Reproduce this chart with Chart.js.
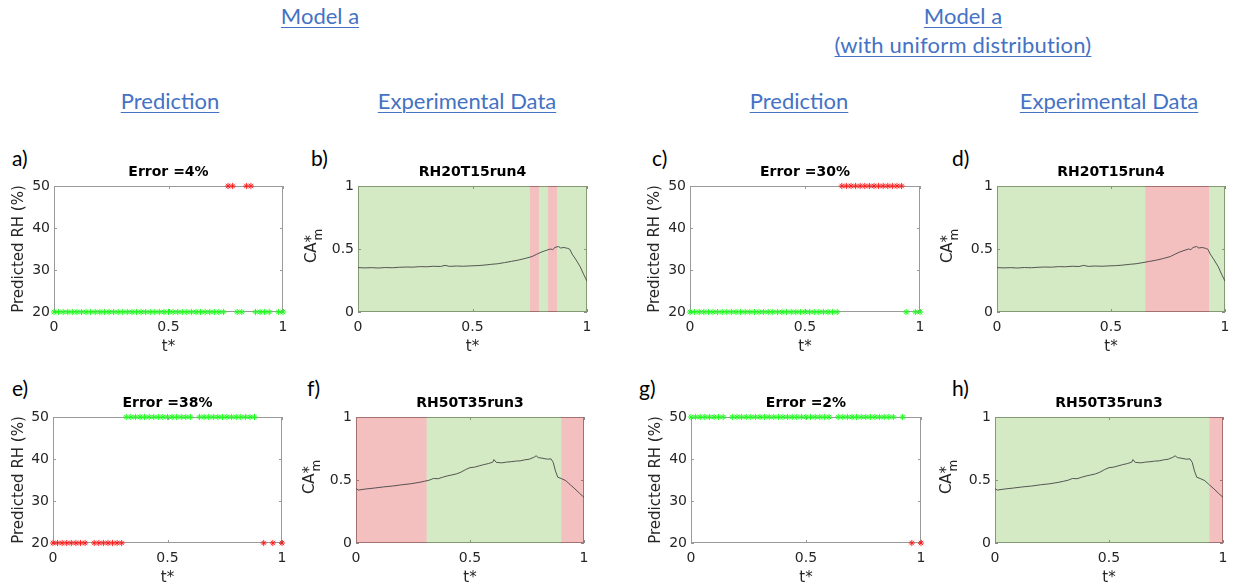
<!DOCTYPE html>
<html>
<head>
<meta charset="utf-8">
<script src="https://cdn.jsdelivr.net/npm/chart.js@4.4.1/dist/chart.umd.min.js"></script>
<style>
  body { margin: 0; background: #fff; width: 1233px; height: 588px; overflow: hidden; position: relative; font-family: Lato, sans-serif; }
  .hd { position: absolute; color: #4472c4; font-size: 22px; text-decoration: underline; text-underline-offset: 3px; text-decoration-thickness: 1px; white-space: nowrap; transform: translate(-50%, -50%); line-height: 1; }
  .lb { position: absolute; font-size: 21px; color: #000; line-height: 1; }
  canvas { position: absolute; }
</style>
</head>
<body>
<div class="hd" style="left:320px;top:16px">Model a</div>
<div class="hd" style="left:963px;top:16px">Model a</div>
<div class="hd" style="left:963px;top:45px;letter-spacing:0.2px">(with uniform distribution)</div>
<div class="hd" style="left:170px;top:101px">Prediction</div>
<div class="hd" style="left:467px;top:101px">Experimental Data</div>
<div class="hd" style="left:799px;top:101px">Prediction</div>
<div class="hd" style="left:1109px;top:101px">Experimental Data</div>

<script>
// sample times (t*) of the two experiments
const tRH20 = [0, 0.02, 0.04, 0.06, 0.08, 0.10, 0.12, 0.14, 0.16, 0.18, 0.20, 0.22, 0.24, 0.26, 0.28, 0.30, 0.32, 0.34, 0.36, 0.38,
  0.40, 0.42, 0.44, 0.46, 0.48, 0.50, 0.52, 0.54, 0.56, 0.58, 0.60, 0.62, 0.64, 0.66, 0.68, 0.70, 0.72, 0.74, 0.76, 0.78,
  0.80, 0.82, 0.84, 0.86, 0.88, 0.90, 0.92, 0.94, 0.98, 1.00];
const tRH50 = [0, 0.02, 0.04, 0.06, 0.08, 0.10, 0.12, 0.14, 0.18, 0.20, 0.22, 0.24, 0.26, 0.28, 0.30, 0.32, 0.34, 0.36, 0.38, 0.40,
  0.42, 0.44, 0.46, 0.48, 0.50, 0.52, 0.54, 0.56, 0.58, 0.60, 0.64, 0.66, 0.68, 0.70, 0.72, 0.74, 0.76, 0.78, 0.80, 0.82,
  0.84, 0.86, 0.88, 0.92, 0.96, 1.00];

// predicted RH (%) at each sample
const predModelA_RH20 = [20, 20, 20, 20, 20, 20, 20, 20, 20, 20, 20, 20, 20, 20, 20, 20, 20, 20, 20, 20,
  20, 20, 20, 20, 20, 20, 20, 20, 20, 20, 20, 20, 20, 20, 20, 20, 20, 20, 50, 50,
  20, 20, 50, 50, 20, 20, 20, 20, 20, 20];
const predUniform_RH20 = [20, 20, 20, 20, 20, 20, 20, 20, 20, 20, 20, 20, 20, 20, 20, 20, 20, 20, 20, 20,
  20, 20, 20, 20, 20, 20, 20, 20, 20, 20, 20, 20, 20, 50, 50, 50, 50, 50, 50, 50,
  50, 50, 50, 50, 50, 50, 50, 20, 20, 20];
const predModelA_RH50 = [20, 20, 20, 20, 20, 20, 20, 20, 20, 20, 20, 20, 20, 20, 20, 50, 50, 50, 50, 50,
  50, 50, 50, 50, 50, 50, 50, 50, 50, 50, 50, 50, 50, 50, 50, 50, 50, 50, 50, 50,
  50, 50, 50, 20, 20, 20];
const predUniform_RH50 = [50, 50, 50, 50, 50, 50, 50, 50, 50, 50, 50, 50, 50, 50, 50, 50, 50, 50, 50, 50,
  50, 50, 50, 50, 50, 50, 50, 50, 50, 50, 50, 50, 50, 50, 50, 50, 50, 50, 50, 50,
  50, 50, 50, 50, 20, 20];

// measured CA*_m curves
const caT_RH20 = [0, 0.03, 0.06, 0.09, 0.12, 0.15, 0.18, 0.21, 0.24, 0.27, 0.30, 0.33, 0.36, 0.38, 0.40, 0.43, 0.46, 0.49, 0.52, 0.55,
  0.58, 0.61, 0.64, 0.67, 0.70, 0.73, 0.76, 0.78, 0.80, 0.82, 0.84, 0.85, 0.86, 0.875, 0.885, 0.90, 0.915, 0.925, 0.935, 0.95,
  0.97, 0.985, 1.0];
const ca_RH20 = [0.352, 0.350, 0.352, 0.349, 0.353, 0.351, 0.355, 0.357, 0.356, 0.360, 0.359, 0.363, 0.361, 0.370, 0.362, 0.365, 0.363, 0.366, 0.368, 0.372,
  0.378, 0.383, 0.392, 0.402, 0.412, 0.425, 0.440, 0.458, 0.475, 0.488, 0.500, 0.495, 0.512, 0.520, 0.508, 0.512, 0.505, 0.498, 0.460, 0.420,
  0.360, 0.300, 0.245];
const caT_RH50 = [0, 0.01, 0.04, 0.08, 0.12, 0.16, 0.20, 0.24, 0.28, 0.30, 0.32, 0.34, 0.36, 0.38, 0.40, 0.42, 0.44, 0.46, 0.48, 0.50,
  0.52, 0.54, 0.56, 0.58, 0.60, 0.605, 0.615, 0.64, 0.66, 0.68, 0.70, 0.72, 0.74, 0.76, 0.78, 0.79, 0.80, 0.82, 0.84, 0.855,
  0.865, 0.875, 0.885, 0.90, 0.92, 0.94, 0.96, 0.98, 1.0];
const ca_RH50 = [0.432, 0.420, 0.428, 0.436, 0.445, 0.452, 0.462, 0.470, 0.482, 0.490, 0.498, 0.512, 0.510, 0.522, 0.532, 0.540, 0.548, 0.562, 0.582, 0.598,
  0.602, 0.612, 0.622, 0.630, 0.642, 0.662, 0.640, 0.636, 0.642, 0.645, 0.650, 0.652, 0.660, 0.665, 0.680, 0.692, 0.678, 0.672, 0.665, 0.668,
  0.640, 0.570, 0.522, 0.512, 0.495, 0.462, 0.430, 0.395, 0.362];

const okColor = '#1cff1c';
const badColor = 'rgba(255,20,20,0.9)';
const okFill = 'rgba(120,190,70,0.32)';
const badFill = 'rgba(222,60,60,0.33)';

Chart.defaults.font.family = 'DejaVu Sans';
Chart.defaults.color = '#262626';

// box round the plot area with small inward ticks, like the original figure
const boxPlugin = {
  id: 'box',
  beforeDatasetsDraw(chart, args, opts) {
    const { ctx, chartArea: a, scales } = chart;
    ctx.save();
    ctx.strokeStyle = opts.color || '#969696';
    ctx.lineWidth = 1;
    ctx.strokeRect(a.left + 0.5, a.top + 0.5, a.right - a.left - 1, a.bottom - a.top - 1);
    ctx.beginPath();
    scales.x.ticks.forEach(tk => {
      const px = Math.round(scales.x.getPixelForValue(tk.value)) + 0.5;
      ctx.moveTo(px, a.bottom); ctx.lineTo(px, a.bottom - 3);
      ctx.moveTo(px, a.top); ctx.lineTo(px, a.top + 3);
    });
    scales.y.ticks.forEach(tk => {
      const py = Math.round(scales.y.getPixelForValue(tk.value)) + 0.5;
      ctx.moveTo(a.left, py); ctx.lineTo(a.left + 3, py);
      ctx.moveTo(a.right, py); ctx.lineTo(a.right - 3, py);
    });
    ctx.stroke();
    ctx.restore();
  }
};

// subscript "m" for the CA* axis title
const subPlugin = {
  id: 'sub',
  afterDraw(chart, args, opts) {
    if (!opts.text) return;
    const { ctx } = chart;
    const y = chart.scales.y;
    const cx = y.left + opts.pad + 9;
    const cy = (y.top + y.bottom) / 2;
    ctx.save();
    ctx.translate(cx, cy);
    ctx.rotate(-Math.PI / 2);
    ctx.font = '15px "DejaVu Sans"';
    const full = ctx.measureText(opts.base).width;
    const head = ctx.measureText(opts.base.slice(0, -1)).width;
    ctx.font = '12px "DejaVu Sans"';
    ctx.fillStyle = '#262626';
    ctx.textAlign = 'left';
    ctx.textBaseline = 'middle';
    ctx.fillText(opts.text, -full / 2 + head + 2, 7);
    ctx.restore();
  }
};

// shading cells: each sample owns the span halfway to its neighbours
function cellEdges(t) {
  const e = [0];
  for (let i = 1; i < t.length; i++) e.push((t[i - 1] + t[i]) / 2);
  e.push(1);
  return e;
}

function predDatasets(t, pred, trueRH) {
  const ok = [], bad = [];
  t.forEach((x, i) => (pred[i] === trueRH ? ok : bad).push({ x: x, y: pred[i] }));
  const pt = { showLine: false, pointStyle: 'star', pointRadius: 3.1, borderWidth: 1, clip: false };
  return [
    Object.assign({ data: bad, borderColor: badColor, backgroundColor: badColor }, pt),
    Object.assign({ data: ok, borderColor: okColor, backgroundColor: okColor }, pt)
  ];
}

function expDatasets(t, pred, trueRH, curveT, curveV) {
  const edges = cellEdges(t);
  const flag = edges.map((x, i) => pred[Math.min(i, t.length - 1)] === trueRH);
  const shade = { showLine: true, stepped: true, pointRadius: 0, borderWidth: 0, fill: 'origin' };
  return [
    { data: curveT.map((x, i) => ({ x: x, y: curveV[i] })), showLine: true, pointRadius: 0,
      borderColor: 'rgba(70,70,70,0.9)', borderWidth: 1, tension: 0 },
    Object.assign({ data: edges.map((x, i) => ({ x: x, y: flag[i] ? 1 : 0 })), backgroundColor: okFill }, shade),
    Object.assign({ data: edges.map((x, i) => ({ x: x, y: flag[i] ? 0 : 1 })), backgroundColor: badFill }, shade)
  ];
}

const panels = [
  { letter: 'a)', lx: 12, ly: 147, kind: 'pred', title: 'Error =4%', t: tRH20, pred: predModelA_RH20, trueRH: 20, rect: [54, 186, 283, 312], yPad: 16 },
  { letter: 'b)', lx: 311, ly: 147, kind: 'exp', title: 'RH20T15run4', t: tRH20, pred: predModelA_RH20, trueRH: 20, ct: caT_RH20, cv: ca_RH20, rect: [358, 186, 587, 312], yPad: 5 },
  { letter: 'c)', lx: 652, ly: 147, kind: 'pred', title: 'Error =30%', t: tRH20, pred: predUniform_RH20, trueRH: 20, rect: [690, 186, 920, 312], yPad: 16 },
  { letter: 'd)', lx: 952, ly: 147, kind: 'exp', title: 'RH20T15run4', t: tRH20, pred: predUniform_RH20, trueRH: 20, ct: caT_RH20, cv: ca_RH20, rect: [997, 186, 1225, 312], yPad: 2 },
  { letter: 'e)', lx: 12, ly: 377, kind: 'pred', title: 'Error =38%', t: tRH50, pred: predModelA_RH50, trueRH: 50, rect: [53, 417, 282, 543], yPad: 17 },
  { letter: 'f)', lx: 307, ly: 377, kind: 'exp', title: 'RH50T35run3', t: tRH50, pred: predModelA_RH50, trueRH: 50, ct: caT_RH50, cv: ca_RH50, rect: [356, 417, 584, 543], yPad: 5 },
  { letter: 'g)', lx: 639, ly: 377, kind: 'pred', title: 'Error =2%', t: tRH50, pred: predUniform_RH50, trueRH: 50, rect: [691, 417, 921, 543], yPad: 16 },
  { letter: 'h)', lx: 952, ly: 377, kind: 'exp', title: 'RH50T35run3', t: tRH50, pred: predUniform_RH50, trueRH: 50, ct: caT_RH50, cv: ca_RH50, rect: [995, 417, 1223, 543], yPad: 3 }
];

const Y_W = 60, TOP_H = 30, X_H = 46, RIGHT_PAD = 12;
const tickText = v => String(Number(v));

panels.forEach(p => {
  const [l, t, r, b] = p.rect;
  const lab = document.createElement('div');
  lab.className = 'lb';
  lab.style.left = p.lx + 'px';
  lab.style.top = p.ly + 'px';
  lab.textContent = p.letter;
  document.body.appendChild(lab);

  const cv = document.createElement('canvas');
  cv.width = (r - l) + Y_W + RIGHT_PAD;
  cv.height = (b - t) + TOP_H + X_H;
  cv.style.left = (l - Y_W) + 'px';
  cv.style.top = (t - TOP_H) + 'px';
  document.body.appendChild(cv);

  const isPred = p.kind === 'pred';
  new Chart(cv, {
    type: 'line',
    data: { datasets: isPred ? predDatasets(p.t, p.pred, p.trueRH) : expDatasets(p.t, p.pred, p.trueRH, p.ct, p.cv) },
    plugins: [boxPlugin, subPlugin],
    options: {
      responsive: false,
      animation: false,
      devicePixelRatio: 1,
      layout: { padding: { left: 0, right: RIGHT_PAD, top: 0, bottom: 0 } },
      plugins: {
        legend: { display: false },
        tooltip: { enabled: false },
        title: {
          display: true, text: p.title, color: '#000', fullSize: false,
          font: { size: 14, weight: 'bold' }, padding: { top: 8, bottom: 5.2 }
        },
        box: { color: isPred ? '#9a9a9a' : '#8a8a8a' },
        sub: { text: isPred ? '' : 'm', base: 'CA*', pad: p.yPad }
      },
      scales: {
        x: {
          type: 'linear', min: 0, max: 1,
          ticks: { stepSize: 0.5, padding: 7, font: { size: 14 }, color: '#262626', maxRotation: 0, callback: tickText },
          grid: { display: false, drawTicks: false },
          border: { display: false },
          title: { display: true, text: 't*', font: { size: 15 }, color: '#262626', padding: { top: 2, bottom: 2 } },
          afterFit: s => { s.height = X_H; }
        },
        y: {
          min: isPred ? 20 : 0, max: isPred ? 50 : 1,
          ticks: { stepSize: isPred ? 10 : 0.5, padding: 4, font: { size: 14 }, color: '#262626', callback: tickText },
          grid: { display: false, drawTicks: false },
          border: { display: false },
          title: { display: true, text: isPred ? 'Predicted RH (%)' : 'CA*', font: { size: 15 }, color: '#262626', padding: { top: p.yPad, bottom: 0 } },
          afterFit: s => { s.width = Y_W; }
        }
      }
    }
  });
});
</script>
</body>
</html>
